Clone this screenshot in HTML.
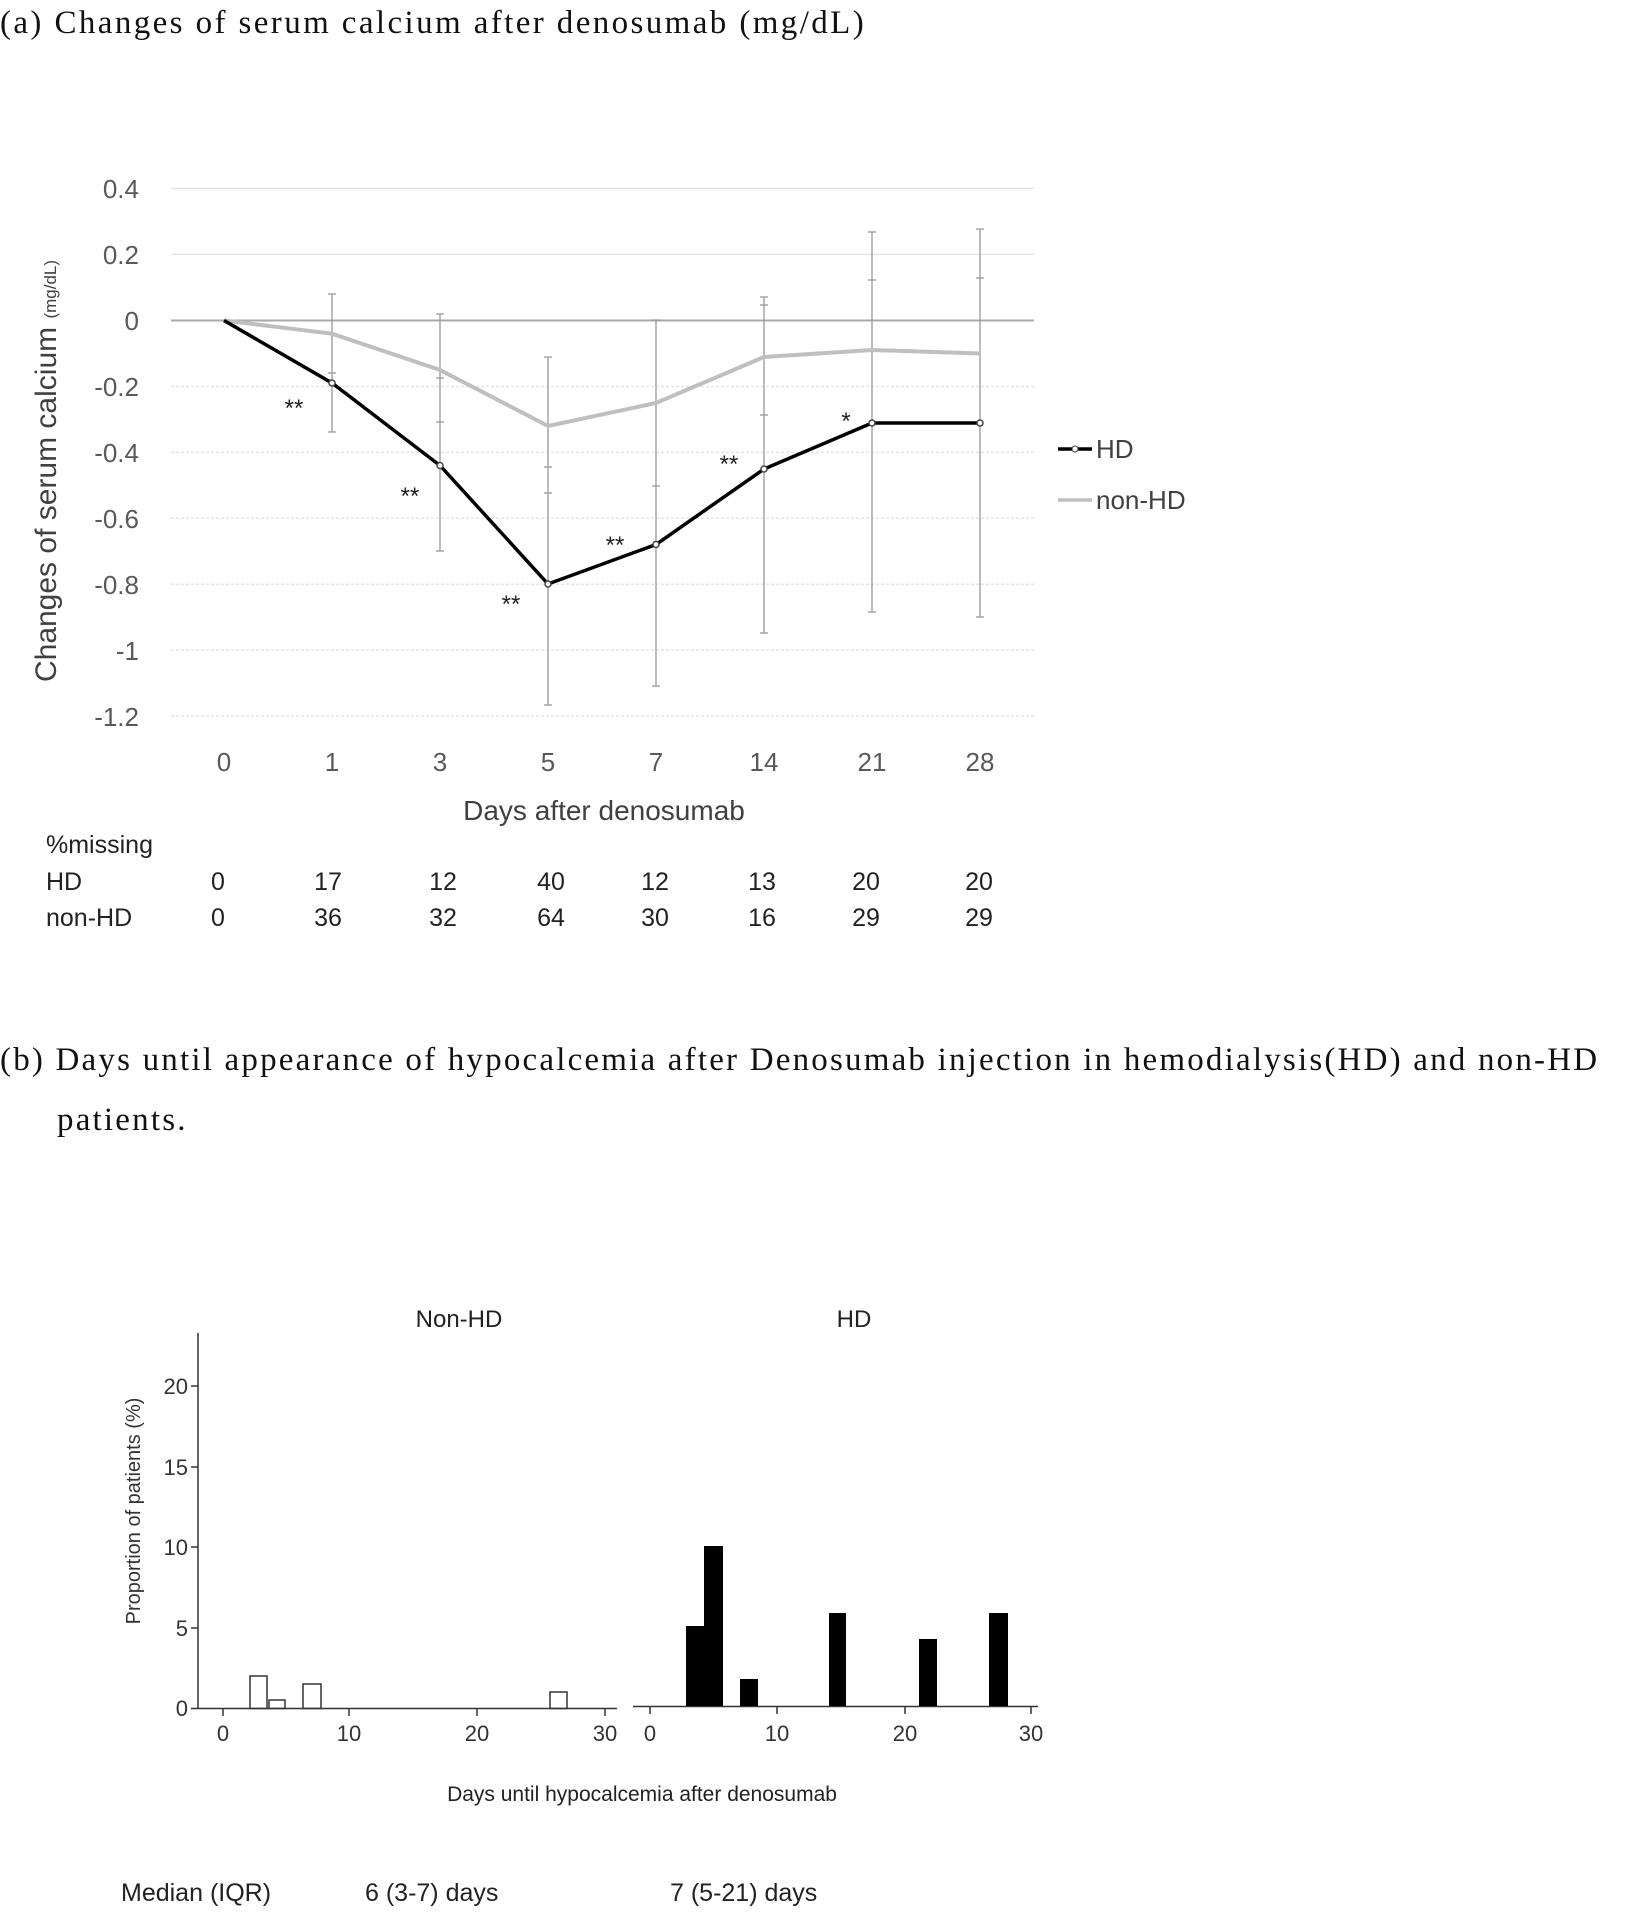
<!DOCTYPE html>
<html><head><meta charset="utf-8"><style>
body{margin:0;background:#fff}
svg{display:block}
.s{font-family:"Liberation Serif",serif;fill:#111}
.a{font-family:"Liberation Sans",sans-serif}
</style></head><body>
<svg width="1645" height="1919" viewBox="0 0 1645 1919" xmlns="http://www.w3.org/2000/svg">
<text class="s" x="0" y="33" font-size="33" letter-spacing="2.4">(a)  Changes of serum calcium after denosumab (mg/dL)</text>
<g stroke="#e4e4e4" stroke-width="1.5">
<line x1="171" x2="1034" y1="188.4" y2="188.4"/><line x1="171" x2="1034" y1="254.4" y2="254.4"/>
<line x1="171" x2="1034" y1="386.5" y2="386.5" stroke-dasharray="3,2"/><line x1="171" x2="1034" y1="452.4" y2="452.4" stroke-dasharray="3,2"/>
<line x1="171" x2="1034" y1="518.3" y2="518.3" stroke-dasharray="3,2"/><line x1="171" x2="1034" y1="584.2" y2="584.2" stroke-dasharray="3,2"/>
<line x1="171" x2="1034" y1="650.1" y2="650.1" stroke-dasharray="3,2"/><line x1="171" x2="1034" y1="716" y2="716" stroke-dasharray="3,2"/>
</g>
<line x1="171" x2="1034" y1="320.5" y2="320.5" stroke="#aaa" stroke-width="2"/>
<g class="a" font-size="26" fill="#595959" text-anchor="end">
<text x="139" y="198">0.4</text><text x="139" y="264">0.2</text><text x="139" y="330">0</text>
<text x="139" y="396">-0.2</text><text x="139" y="462">-0.4</text><text x="139" y="528">-0.6</text>
<text x="139" y="594">-0.8</text><text x="139" y="660">-1</text><text x="139" y="726">-1.2</text>
</g>
<g class="a" font-size="26" fill="#595959" text-anchor="middle">
<text x="224" y="771">0</text><text x="332" y="771">1</text><text x="440" y="771">3</text><text x="548" y="771">5</text>
<text x="656" y="771">7</text><text x="764" y="771">14</text><text x="872" y="771">21</text><text x="980" y="771">28</text>
</g>
<text class="a" transform="translate(56,471) rotate(-90)" text-anchor="middle" font-size="30" fill="#404040">Changes of serum calcium <tspan font-size="17">(mg/dL)</tspan></text>
<g stroke="#999" stroke-width="1.3">
<line x1="332" x2="332" y1="294" y2="432"/><line x1="328" x2="336" y1="294" y2="294"/><line x1="328" x2="336" y1="373" y2="373"/><line x1="328" x2="336" y1="432" y2="432"/>
<line x1="440" x2="440" y1="314" y2="551"/><line x1="436" x2="444" y1="314" y2="314"/><line x1="436" x2="444" y1="378" y2="378"/><line x1="436" x2="444" y1="422" y2="422"/><line x1="436" x2="444" y1="551" y2="551"/>
<line x1="548" x2="548" y1="357" y2="705"/><line x1="544" x2="552" y1="357" y2="357"/><line x1="544" x2="552" y1="467" y2="467"/><line x1="544" x2="552" y1="493" y2="493"/><line x1="544" x2="552" y1="705" y2="705"/>
<line x1="656" x2="656" y1="320" y2="686"/><line x1="652" x2="660" y1="320" y2="320"/><line x1="652" x2="660" y1="486" y2="486"/><line x1="652" x2="660" y1="686" y2="686"/>
<line x1="764" x2="764" y1="297" y2="633"/><line x1="760" x2="768" y1="297" y2="297"/><line x1="760" x2="768" y1="305" y2="305"/><line x1="760" x2="768" y1="415" y2="415"/><line x1="760" x2="768" y1="633" y2="633"/>
<line x1="872" x2="872" y1="232" y2="612"/><line x1="868" x2="876" y1="232" y2="232"/><line x1="868" x2="876" y1="280" y2="280"/><line x1="868" x2="876" y1="612" y2="612"/>
<line x1="980" x2="980" y1="229" y2="617"/><line x1="976" x2="984" y1="229" y2="229"/><line x1="976" x2="984" y1="278" y2="278"/><line x1="976" x2="984" y1="617" y2="617"/>
</g>
<polyline fill="none" stroke="#bfbfbf" stroke-width="4" points="224,320.5 332,333.7 440,370 548,426 656,403 764,357 872,350 980,353.5"/>
<polyline fill="none" stroke="#000" stroke-width="3.5" points="224,320.5 332,383 440,465.5 548,584 656,544.5 764,469 872,423 980,423"/>
<g fill="#fff" stroke="#444" stroke-width="1.5">
<circle cx="332" cy="383" r="3"/><circle cx="440" cy="465.5" r="3"/><circle cx="548" cy="584" r="3"/><circle cx="656" cy="544.5" r="3"/><circle cx="764" cy="469" r="3"/><circle cx="872" cy="423" r="3"/><circle cx="980" cy="423" r="3"/>
</g>
<g class="a" font-size="24" fill="#222" text-anchor="middle">
<text x="294" y="416">**</text><text x="410" y="504">**</text><text x="511" y="612">**</text><text x="615" y="553">**</text><text x="729" y="472">**</text><text x="846" y="429">*</text>
</g>
<line x1="1058" x2="1092" y1="449" y2="449" stroke="#000" stroke-width="3.5"/><circle cx="1075" cy="449" r="3" fill="#fff" stroke="#444"/>
<text class="a" x="1096" y="458" font-size="26" fill="#404040">HD</text>
<line x1="1058" x2="1092" y1="500" y2="500" stroke="#bfbfbf" stroke-width="3.5"/>
<text class="a" x="1096" y="509" font-size="26" fill="#404040">non-HD</text>
<text class="a" x="604" y="820" text-anchor="middle" font-size="28" fill="#404040">Days after denosumab</text>
<g class="a" font-size="25" fill="#222">
<text x="46" y="853">%missing</text><text x="46" y="890">HD</text><text x="46" y="926">non-HD</text>
<g text-anchor="middle">
<text x="218" y="890">0</text><text x="328" y="890">17</text><text x="443" y="890">12</text><text x="551" y="890">40</text><text x="655" y="890">12</text><text x="762" y="890">13</text><text x="866" y="890">20</text><text x="979" y="890">20</text>
<text x="218" y="926">0</text><text x="328" y="926">36</text><text x="443" y="926">32</text><text x="551" y="926">64</text><text x="655" y="926">30</text><text x="762" y="926">16</text><text x="866" y="926">29</text><text x="979" y="926">29</text>
</g></g>
<text class="s" x="0" y="1070" font-size="33" letter-spacing="2.2">(b)  Days until appearance of hypocalcemia after Denosumab injection in hemodialysis(HD) and non-HD</text>
<text class="s" x="57" y="1130" font-size="33" letter-spacing="2.2">patients.</text>
<g class="a" fill="#222">
<text x="459" y="1327" text-anchor="middle" font-size="24">Non-HD</text>
<text x="854" y="1327" text-anchor="middle" font-size="24">HD</text>
</g>
<g stroke="#333" stroke-width="1.5" fill="none">
<line x1="198" x2="198" y1="1333" y2="1709"/>
<line x1="198" x2="617" y1="1708.5" y2="1708.5"/>
<line x1="191" x2="198" y1="1386" y2="1386"/><line x1="191" x2="198" y1="1467" y2="1467"/><line x1="191" x2="198" y1="1547" y2="1547"/><line x1="191" x2="198" y1="1628" y2="1628"/><line x1="191" x2="198" y1="1708.5" y2="1708.5"/>
<line x1="223" x2="223" y1="1708" y2="1716"/><line x1="349" x2="349" y1="1708" y2="1716"/><line x1="477" x2="477" y1="1708" y2="1716"/><line x1="605" x2="605" y1="1708" y2="1716"/>
<line x1="633" x2="1038" y1="1706.5" y2="1706.5"/>
<line x1="650" x2="650" y1="1706" y2="1714"/><line x1="777" x2="777" y1="1706" y2="1714"/><line x1="905" x2="905" y1="1706" y2="1714"/><line x1="1031" x2="1031" y1="1706" y2="1714"/>
<rect x="250" y="1676" width="17" height="32.5"/><rect x="269" y="1700" width="16" height="8.5"/><rect x="303" y="1684" width="18" height="24.5"/><rect x="550" y="1692" width="17" height="16.5"/>
</g>
<g fill="#000">
<rect x="686" y="1626" width="18" height="80"/><rect x="704" y="1546" width="19" height="160"/><rect x="740" y="1679" width="18" height="27"/>
<rect x="829" y="1613" width="17" height="93"/><rect x="919" y="1639" width="18" height="67"/><rect x="989" y="1613" width="19" height="93"/>
</g>
<g class="a" font-size="22" fill="#333">
<g text-anchor="end"><text x="188" y="1394">20</text><text x="188" y="1475">15</text><text x="188" y="1555">10</text><text x="188" y="1636">5</text><text x="188" y="1716">0</text></g>
<g text-anchor="middle"><text x="223" y="1741">0</text><text x="349" y="1741">10</text><text x="477" y="1741">20</text><text x="605" y="1741">30</text>
<text x="650" y="1741">0</text><text x="777" y="1741">10</text><text x="905" y="1741">20</text><text x="1031" y="1741">30</text></g>
</g>
<text class="a" transform="translate(140,1511) rotate(-90)" text-anchor="middle" font-size="20" fill="#333">Proportion of patients (%)</text>
<text class="a" x="642" y="1801" text-anchor="middle" font-size="21" fill="#222">Days until hypocalcemia after denosumab</text>
<g class="a" font-size="25" fill="#222">
<text x="121" y="1901">Median (IQR)</text><text x="365" y="1901">6 (3-7) days</text><text x="670" y="1901">7 (5-21) days</text>
</g>
</svg>
</body></html>
